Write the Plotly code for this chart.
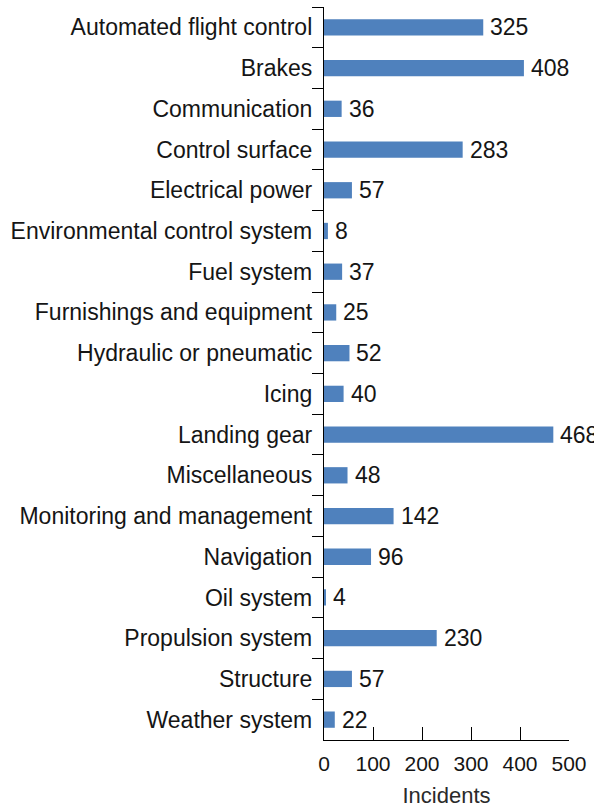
import plotly.graph_objects as go

systems = [
    "Automated flight control", "Brakes", "Communication", "Control surface",
    "Electrical power", "Environmental control system", "Fuel system",
    "Furnishings and equipment", "Hydraulic or pneumatic", "Icing",
    "Landing gear", "Miscellaneous", "Monitoring and management",
    "Navigation", "Oil system", "Propulsion system", "Structure",
    "Weather system",
]
incidents = [325, 408, 36, 283, 57, 8, 37, 25, 52, 40, 468, 48, 142, 96, 4, 230, 57, 22]
x_ticks = [0, 100, 200, 300, 400, 500]

FONT = "Liberation Sans, Arial, sans-serif"
INK = "#151515"

fig = go.Figure(
    go.Bar(
        x=incidents,
        y=systems,
        orientation="h",
        width=0.4,
        marker=dict(color="#4F81BD", line=dict(width=0)),
    )
)

# value labels just right of each bar end
for name, val in zip(systems, incidents):
    fig.add_annotation(
        x=val, y=name, text=str(val),
        xref="x", yref="y",
        xanchor="left", yanchor="middle",
        xshift=5, showarrow=False,
        font=dict(family=FONT, size=23, color=INK),
    )

fig.update_layout(
    width=594,
    height=812,
    margin=dict(l=324, r=23, t=7, b=72),
    paper_bgcolor="white",
    plot_bgcolor="white",
    showlegend=False,
    font=dict(family=FONT, size=23, color=INK),
)

fig.update_yaxes(
    type="category",
    categoryorder="array",
    categoryarray=systems,
    autorange="reversed",
    showline=True,
    linecolor="black",
    linewidth=1.3,
    ticks="outside",
    tickson="boundaries",
    ticklen=11,
    tickwidth=1.3,
    tickcolor="black",
    showgrid=False,
    zeroline=False,
    tickfont=dict(family=FONT, size=23, color=INK),
    ticklabelstandoff=6,
)

fig.update_xaxes(
    range=[0, 500],
    tickvals=x_ticks,
    ticktext=[str(t) for t in x_ticks],
    showline=True,
    linecolor="black",
    linewidth=1.3,
    ticks="inside",
    ticklen=13,
    tickwidth=1.3,
    tickcolor="black",
    showgrid=False,
    zeroline=False,
    tickfont=dict(family=FONT, size=21, color=INK),
    ticklabelstandoff=5,
    title=dict(text="Incidents", font=dict(family=FONT, size=22, color="#2a2a2a"), standoff=13),
)

fig.write_html("out.html")
